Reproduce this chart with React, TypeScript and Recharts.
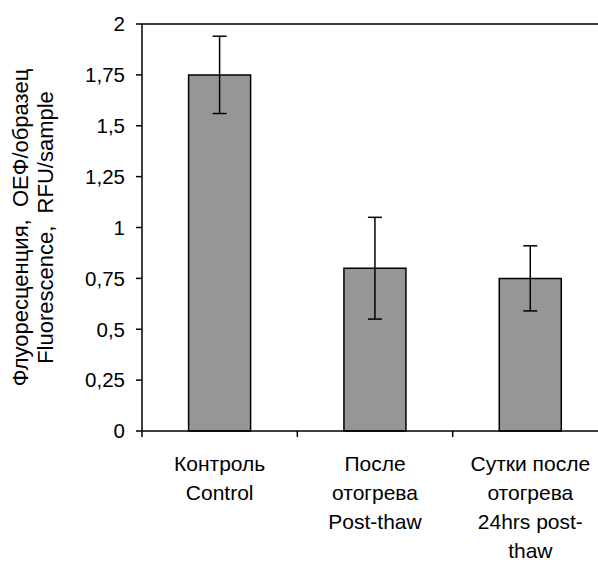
import { BarChart, Bar, XAxis, YAxis, ErrorBar, ReferenceLine, Label } from 'recharts';

const CATEGORY_LINES = [
    ['Контроль', 'Control'],
    ['После', 'отогрева', 'Post-thaw'],
    ['Сутки после', 'отогрева', '24hrs post-', 'thaw'],
];
const VALUES = [1.75, 0.8, 0.75];
const ERRORS = [0.19, 0.25, 0.16];
const Y_TICKS = [0, 0.25, 0.5, 0.75, 1, 1.25, 1.5, 1.75, 2];
const Y_TITLE = ['Флуоресценция,  ОЕФ/образец', 'Fluorescence,  RFU/sample'];

const data = CATEGORY_LINES.map((lines, i) => ({
    name: lines.join(' '),
    value: VALUES[i],
    err: ERRORS[i],
}));

const FONT = '"Liberation Sans", Arial, sans-serif';

const CategoryTick = (props: any) => {
    const { x, y, payload } = props;
    const lines = CATEGORY_LINES[payload.index] || [];
    const edge = x - (payload.offset || 0);
    return (
        <g>
            <line x1={edge} y1={y - 6} x2={edge} y2={y} stroke="#000" strokeWidth={1.5} />
            <text x={x} y={y} textAnchor="middle" fontSize={21} fontFamily={FONT} fill="#000">
                {lines.map((l, i) => (
                    <tspan key={i} x={x} dy={i === 0 ? 34 : 29}>
                        {l}
                    </tspan>
                ))}
            </text>
        </g>
    );
};

const YTitle = (props: any) => {
    const { viewBox } = props;
    const cy = viewBox.y + viewBox.height / 2;
    const xs = [20, 45];
    return (
        <g>
            {Y_TITLE.map((t, i) => (
                <text
                    key={i}
                    x={xs[i]}
                    y={cy}
                    transform={`rotate(-90, ${xs[i]}, ${cy})`}
                    textAnchor="middle"
                    dominantBaseline="central"
                    fontSize={22}
                    fontFamily={FONT}
                    fill="#000"
                    style={{ whiteSpace: 'pre' }}
                >
                    {t}
                </text>
            ))}
        </g>
    );
};

export default function App() {
    return (
        <div style={{ position: 'fixed', left: 0, top: 0, width: 598, height: 562, overflow: 'hidden', background: '#fff' }}>
            <BarChart
                width={610}
                height={562}
                data={data}
                margin={{ top: 24, right: 2, bottom: 0, left: 0 }}
                barCategoryGap="30%"
            >
                <XAxis
                    dataKey="name"
                    height={131}
                    interval={0}
                    axisLine={{ stroke: '#000', strokeWidth: 1.5 }}
                    tickLine={{ stroke: 'none' }}
                    tickSize={6}
                    tickMargin={0}
                    tick={<CategoryTick />}
                />
                <YAxis
                    width={142}
                    domain={[0, 2]}
                    ticks={Y_TICKS}
                    interval={0}
                    tickFormatter={(v: number) => String(v).replace('.', ',')}
                    axisLine={{ stroke: '#000', strokeWidth: 1.5 }}
                    tickLine={{ stroke: '#000', strokeWidth: 1.5 }}
                    tickSize={6}
                    tickMargin={11}
                    tick={{ fill: '#000', fontSize: 20.5, fontFamily: FONT }}
                >
                    <Label content={<YTitle />} />
                </YAxis>
                <ReferenceLine y={2} stroke="#000" strokeWidth={1.5} />
                <Bar dataKey="value" fill="#969696" stroke="#000" strokeWidth={1.5} isAnimationActive={false}>
                    <ErrorBar dataKey="err" width={7} stroke="#000" strokeWidth={1.5} />
                </Bar>
            </BarChart>
        </div>
    );
}
